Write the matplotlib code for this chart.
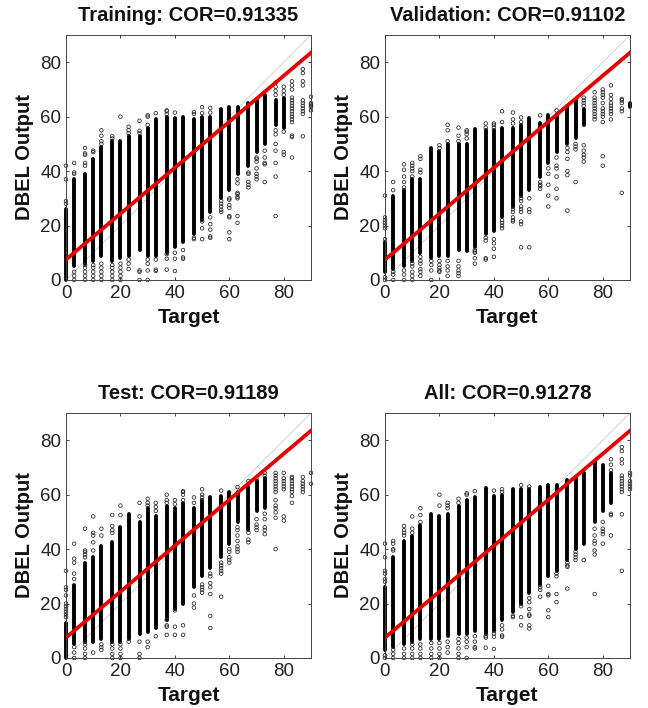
import matplotlib
matplotlib.use('Agg')
import matplotlib.pyplot as plt
import numpy as np

plt.rcParams['font.family'] = ['Liberation Sans', 'DejaVu Sans']

nan = np.nan
targets = [0, 3, 7, 10, 13, 17, 20, 23, 27, 30, 33, 37, 40, 43, 47, 50, 53, 57, 60, 63, 67, 70, 73, 77, 80, 83, 87, 90]

# solid part of every column: low and high end (nan = only single circles there)
train_low = [0, 5, 6, 7, 9, 7, 8, 9, 11, 9, 9, 10, 12, 14, 17, 22, 25, 30, 33, 39, 42, 47, 50, 57, 56, nan, nan, nan]
train_high = [26, 37, 39, 44.5, 49, 51, 51, 53, 53, 56, 59, 60, 59.5, 60, 59, 60, 60, 62.8, 63.5, 63.5, 65, 66.3, 67.8, 66, 67, nan, nan, nan]
# single circles that can be told apart
train_pts = [
    [29, 28, 37, 42, 1],
    [39, 39.5, 43, 0, 1.5, 3],
    [42, 43, 46, 46.5, 48.5, 0, 1.5, 3, 4.5, 5.5],
    [47, 47.5, 0, 1.5, 3, 4.5, 5.5],
    [50, 51, 53, 55, 0, 1.5, 3, 4.5, 6],
    [52, 52.8, 0, 1.5, 3, 4.5, 5.5],
    [60, 0, 1.5, 3, 4.5, 6],
    [54, 55, 56.3, 4, 6, 7.5],
    [54, 54.8, 58.5, 0, 3, 3.5],
    [57, 60, 60.5, 0, 3.5, 6, 7.5],
    [61.3, 3.3, 3.8, 7.5],
    [61, 62, 62.3, 3.8, 7.8, 9.5],
    [61.5, 3.3, 7.8, 10],
    [7.8, 8.3, 11],
    [61, 61.7, 15, 15.5],
    [61.3, 63.5, 15, 19, 21.5],
    [61.5, 63.2, 15.5, 16, 18.5, 20.5, 23],
    [25, 25.8, 27, 28, 29],
    [15, 17.5, 23, 23.5, 26.5, 27.5, 29.5, 30],
    [21, 23.5, 30, 30.5, 31.5, 32, 35.5, 37],
    [34, 35, 36, 39, 39.5],
    [37, 38, 39, 41, 43.5, 44.5, 45],
    [36, 42.5, 43, 45, 47.5],
    [68, 69.5, 71, 72.5, 23.5, 38, 43, 47.5, 50, 53.5, 55],
    [68, 69.5, 71, 46, 47, 54.5],
    [58, 59, 60, 61, 62, 63, 64, 65, 66, 67, 70, 71.5, 73, 45, 52.5, 53],
    [61, 62, 63, 64, 65, 66, 71.5, 73, 76, 77.5, 52.8],
    [62.3, 63.5, 64, 64.5, 65, 67.3],
]

val_low = [3, 4, 5, 7, 10, 8, 9, 9, 11, 10.5, 12, 17, 18, 23, 27, 31, 33, 38, 43, 47, 50, 52, 57, nan, nan, nan, nan, 63.5]
val_high = [14, 31, 33, 37, 37, 48.5, 47.5, 50, 50, 50, 55.5, 55, 55, 56, 56, 57, 59.5, 57.5, 60.5, 61, 64, 66, 63, nan, nan, nan, nan, 65]
val_pts = [
    [15, 19, 20, 21, 22, 23, 31, 0, 1],
    [33, 36, 0, 2, 3],
    [34, 36, 38, 40.5, 42.5, 0, 2, 3.5],
    [38, 40, 41, 42, 43, 0, 1.5, 3, 5, 6],
    [39.5, 40.5, 44.5, 45.5, 1.5, 3, 4, 6, 7, 8.5],
    [0, 3.5, 5.5, 7],
    [48.5, 49.5, 3, 3.5, 4.5, 5.5, 7],
    [51, 55, 57, 1.5, 3.5, 5, 7],
    [51, 53, 56, 1.5, 2.5, 3.5, 5, 7],
    [52, 53.5, 54.5, 55],
    [6, 8, 10, 10.5, 11],
    [56, 57.5, 7.5, 8, 14.5, 15.5],
    [56, 57, 57.5, 8.5, 11.5, 13.5, 15],
    [58, 62, 19, 20, 21, 22],
    [57.5, 59, 61.5, 21.5, 22, 23, 25, 26],
    [58, 59.7, 12, 20.5, 21.5, 25, 26, 27, 29, 30],
    [12, 25, 26, 30],
    [60.5, 33.5, 34.5, 35, 36],
    [27, 31, 35, 39, 41],
    [62.3, 30, 33.5, 38, 41, 42, 45],
    [25.5, 38.5, 40, 44.5, 47, 48.5],
    [36, 48, 49, 50],
    [64, 65, 66, 67, 43.5, 45, 46, 47.5, 49.5],
    [59, 60, 61, 62, 63, 64, 65, 66, 67, 69],
    [60, 61, 62, 63, 65, 67, 68, 69, 70, 42, 45.5, 58],
    [61, 62, 63, 64, 65, 66.5, 68, 71.5, 59],
    [62, 63, 65, 66, 66.5, 32],
    [],
]

test_low = [0, 5, 6, 6, 7, 6, 6, 7, 9, 9.5, 11, 14, 18, 20, 26, 30, 33, 37, 42, 50, 47, 54, 55, nan, nan, nan, nan, nan]
test_high = [13, 27, 35, 37, 41, 42.5, 48, 53, 50, 55, 52, 56, 55, 57, 55, 58, 59, 59.5, 61, 61, 63, 65, 66, nan, nan, nan, nan, nan]
test_pts = [
    [15, 16, 17, 18, 19, 20, 23, 25, 26, 32],
    [29, 31, 35, 36.5, 42, 0, 2, 4],
    [37, 38, 39, 39.5, 47.5, 0, 1.5, 3.5, 5],
    [39.5, 42.5, 45, 46, 52, 2],
    [45, 47.5, 3, 4, 5],
    [46, 47, 48.5, 52.5, 0, 1.5, 3.5, 5],
    [52.5, 56, 0, 1.5, 3.5, 5],
    [6],
    [52, 57, 0, 1.5, 6],
    [56, 57, 58.5, 4, 6],
    [54, 55.5, 57, 8],
    [57, 58, 60, 8.5, 11.5, 12, 14],
    [56.5, 58, 8.5, 11.5, 17.5],
    [58, 60, 61, 61.3, 8.5, 12],
    [57, 59, 18.5, 20, 23],
    [59, 60, 62, 24, 25, 26, 27],
    [11, 15.5, 23.5, 26, 27.5, 30, 31],
    [61.5, 22.5, 31, 32, 33, 34, 35],
    [35, 36, 37, 39, 40],
    [62.8, 39, 40, 41, 43, 45, 47, 48],
    [64, 65, 42.5, 43.5, 46],
    [65.8, 47, 48, 49, 51],
    [67, 68, 45.5, 47, 48, 51, 53],
    [61, 62, 63, 64, 65, 66, 67, 68, 40, 51.5, 53.5, 55, 56, 58],
    [62, 63, 64, 65, 66, 50.5, 52, 68],
    [61, 62, 63, 64, 65, 66, 66.5, 57, 59.5],
    [61, 62, 63, 64, 65, 66.5],
    [64, 68],
]

all_low = [3, 4, 5, 6, 7, 7, 7, 8, 9, 9, 10, 9, 10, 14, 17, 20, 24, 27, 30, 32, 36, 40, 42, 50, 54, 57, nan, nan]
all_high = [26, 37, 43, 45, 49, 53, 52, 53, 56, 58, 59, 62.3, 59.5, 60, 62, 62, 62, 63, 63.5, 63.5, 65.5, 66.5, 68, 72.5, 71, 68, nan, nan]
all_pts = [
    [28, 29, 31, 32, 37, 42, 0, 1],
    [39.5, 40, 42, 43, 0, 1.5, 3],
    [45, 46, 47, 48.5, 0, 1.5, 3.5],
    [46, 47.5, 52, 0, 1.5, 3.5, 5],
    [50, 52.5, 55, 0, 1.5, 3.5, 5],
    [0, 1.5, 3.5, 5.5],
    [56, 60, 0, 1.5, 3.5, 5.5],
    [55, 56, 57, 2, 4, 6],
    [57, 58.5, 0, 1.5, 3.5, 5.5, 7],
    [60, 60.5, 0, 4, 6, 7.5],
    [61.3, 3.5, 4, 6, 8],
    [3.8, 7.5, 8],
    [61.5, 3.3, 7.8, 9],
    [61, 62, 7.8, 8.3, 10.5, 12],
    [15, 15.5],
    [63.5, 12, 15, 19],
    [63, 10.8, 12, 15.5, 16, 18, 20.5, 22],
    [22.5, 25, 26],
    [15, 17.5, 23, 23.5, 26.5],
    [20.5, 23.5, 30, 31],
    [25.5, 33.5, 34, 35],
    [36, 37, 38, 39],
    [36],
    [23.5, 38, 39.5, 42, 43, 45, 47.5],
    [42, 45.5, 46.5, 47.5, 50],
    [69, 71, 73, 45, 52.5, 53],
    [61, 62, 63, 64, 65, 66, 67, 71.5, 73, 76, 77.5, 32, 52.8],
    [62, 63, 64, 65, 67, 68],
]

titles = ['Training: COR=0.91335', 'Validation: COR=0.91102', 'Test: COR=0.91189', 'All: COR=0.91278']
fit_ends = [7.5, 83.5]
lows = [train_low, val_low, test_low, all_low]
highs = [train_high, val_high, test_high, all_high]
points = [train_pts, val_pts, test_pts, all_pts]

W, H = 648, 708
boxes = [(66, 35), (385, 35), (66, 413), (385, 413)]
SIZE = 245


def draw_panel(ax, title, low, high, pts):
    ax.vlines(targets, low, high, color='k', lw=2.8, capstyle='round', clip_on=False, zorder=2)
    for t, ys in zip(targets, pts):
        if len(ys) == 0:
            continue
        ax.scatter([t] * len(ys), ys, s=6.5, facecolors='none', edgecolors='#222222',
                   linewidths=0.55, clip_on=False, zorder=2)
    ax.plot([0, 90], [0, 90], color='#c4cccc', lw=0.6, zorder=1)
    ax.plot([0, 90], fit_ends, color='#e60000', lw=2.7, zorder=3)
    ax.set_xlim(0, 90)
    ax.set_ylim(0, 90)
    ax.set_xticks([0, 20, 40, 60, 80])
    ax.set_yticks([0, 20, 40, 60, 80])
    ax.tick_params(direction='in', length=2.5, width=0.6, top=True, right=True,
                   labelsize=13.5, colors='#222222', pad=3.5)
    for s in ax.spines.values():
        s.set_linewidth(0.7)
        s.set_color('#444444')
    ax.set_title(title, fontsize=14.5, fontweight='bold', pad=10, color='#111111')
    ax.set_xlabel('Target', fontsize=15, fontweight='bold', labelpad=4.5, color='#111111')
    ax.set_ylabel('DBEL Output', fontsize=14.5, fontweight='bold', labelpad=4.5, color='#111111')


fig = plt.figure(figsize=(W / 100, H / 100), dpi=100)
for i in range(4):
    x0, y0 = boxes[i]
    ax = fig.add_axes([x0 / W, 1 - (y0 + SIZE) / H, SIZE / W, SIZE / H])
    draw_panel(ax, titles[i], lows[i], highs[i], points[i])

fig.savefig('out.png', dpi=100)
